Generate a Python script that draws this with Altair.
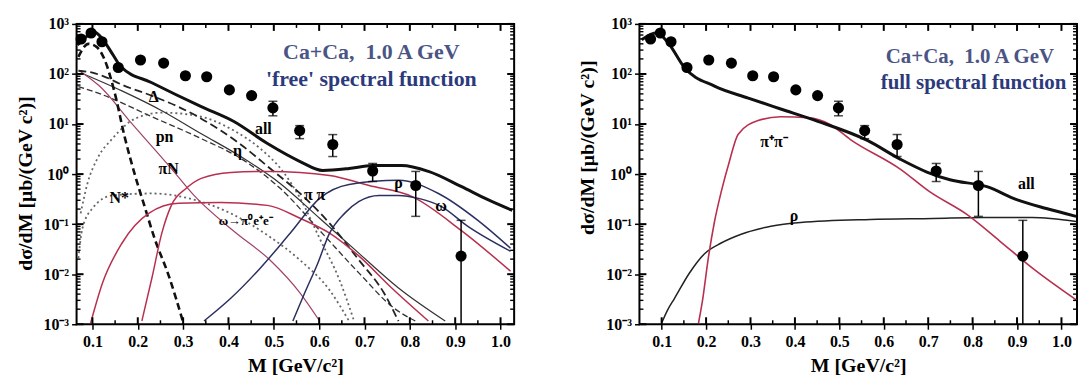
import altair as alt
import pandas as pd

FONT = "Liberation Serif"
W, H = 440, 302

# ---------------- measured data (same in both panels) ----------------
m_pts = [0.075, 0.097, 0.121, 0.157, 0.206, 0.257, 0.305, 0.352, 0.402, 0.451, 0.498, 0.557, 0.630, 0.718, 0.813, 0.913]
y_pts = [500, 660, 440, 135, 190, 165, 92, 88, 48, 37, 21, 7.4, 3.9, 1.15, 0.59, 0.023]
m_err = [0.498, 0.557, 0.630, 0.718, 0.813, 0.913]
err_lo = [14.6, 5.1, 2.24, 0.71, 0.143, 0.001]
err_hi = [28.5, 9.3, 6.15, 1.63, 1.13, 0.119]
m_cap_lo = [0.498, 0.557, 0.630, 0.718, 0.813]
cap_lo = [14.6, 5.1, 2.24, 0.71, 0.143]

# ---------------- left panel: 'free' spectral function ----------------
all_free_m = [0.067, 0.089, 0.104, 0.122, 0.144, 0.163, 0.231, 0.340, 0.412, 0.486, 0.558, 0.608, 0.666, 0.717, 0.782, 0.841, 0.913, 0.971, 1.026]
all_free_y = [382, 577, 693, 502, 252, 139, 66.8, 22.2, 11.2, 4.07, 1.78, 1.18, 1.29, 1.48, 1.48, 1.13, 0.566, 0.312, 0.188]

pi0_m = [0.069, 0.091, 0.109, 0.126, 0.148, 0.172, 0.194, 0.215, 0.237, 0.268, 0.300]
pi0_y = [220, 400, 348, 201, 46, 5.1, 0.94, 0.226, 0.052, 0.0095, 0.0011]

delta_m = [0.069, 0.100, 0.122, 0.165, 0.237, 0.290, 0.340, 0.383, 0.427, 0.492, 0.558, 0.623, 0.688, 0.743, 0.775]
delta_y = [116, 106, 92, 61, 35, 22, 12.8, 7.4, 3.9, 1.29, 0.41, 0.104, 0.019, 0.0042, 0.00115]

eta_m = [0.069, 0.122, 0.231, 0.340, 0.427, 0.514, 0.601, 0.688, 0.765, 0.812]
eta_y = [56, 38.5, 14, 5.1, 2.05, 0.52, 0.075, 0.0105, 0.0021, 0.00116]

pn_m = [0.074, 0.089, 0.111, 0.144, 0.194, 0.253, 0.329, 0.412, 0.470, 0.520, 0.558, 0.601, 0.645, 0.677]
pn_y = [0.164, 0.65, 2.05, 5.1, 12.8, 16.9, 14.7, 7.4, 3.24, 1.13, 0.33, 0.052, 0.0076, 0.00116]

nstar_m = [0.069, 0.078, 0.100, 0.144, 0.231, 0.311, 0.405, 0.486, 0.558, 0.623, 0.666]
nstar_y = [0.021, 0.083, 0.207, 0.375, 0.41, 0.33, 0.164, 0.060, 0.019, 0.0048, 0.00115]

brems_m = [0.074, 0.165, 0.253, 0.340, 0.427, 0.514, 0.601, 0.688, 0.775, 0.878]
brems_y = [106, 46, 18.5, 6.4, 2.24, 0.65, 0.131, 0.026, 0.0053, 0.00116]

piN_m = [0.075, 0.115, 0.187, 0.274, 0.324, 0.412, 0.492, 0.558, 0.601]
piN_y = [110, 58, 10.2, 1.29, 0.375, 0.072, 0.019, 0.0042, 0.00116]

redA_m = [0.096, 0.122, 0.165, 0.224, 0.290, 0.383, 0.486, 0.558, 0.623, 0.688, 0.760, 0.841]
redA_y = [0.00106, 0.0066, 0.0415, 0.164, 0.26, 0.27, 0.237, 0.131, 0.066, 0.0229, 0.0053, 0.00116]

redB_m = [0.209, 0.231, 0.253, 0.274, 0.307, 0.340, 0.405, 0.492, 0.623, 0.710, 0.804, 0.913, 1.022]
redB_y = [0.00116, 0.0083, 0.066, 0.237, 0.52, 0.82, 1.08, 1.13, 0.94, 0.59, 0.358, 0.075, 0.0115]

rho_m = [0.346, 0.405, 0.470, 0.536, 0.601, 0.666, 0.775, 0.863, 0.950, 1.022]
rho_y = [0.00116, 0.0033, 0.0132, 0.0656, 0.327, 0.62, 0.75, 0.41, 0.119, 0.033]

omega_m = [0.542, 0.568, 0.597, 0.623, 0.656, 0.688, 0.732, 0.775, 0.819, 0.869, 0.928, 1.022]
omega_y = [0.00116, 0.0042, 0.0166, 0.066, 0.164, 0.284, 0.375, 0.375, 0.327, 0.226, 0.090, 0.0287]

left_labels = ["Δ", "pn", "η", "all", "πN", "N*", "π π", "ρ", "ω"]
left_label_m = [0.235, 0.259, 0.420, 0.477, 0.268, 0.159, 0.590, 0.775, 0.869]
left_label_y = [35, 5.6, 2.95, 8.1, 1.29, 0.327, 0.375, 0.65, 0.226]
small_labels = ["ω→π⁰e⁺e⁻"]
small_label_m = [0.438]
small_label_y = [0.114]

# ---------------- right panel: full spectral function ----------------
all_full_m = [0.055, 0.089, 0.116, 0.151, 0.219, 0.295, 0.368, 0.447, 0.563, 0.637, 0.697, 0.749, 0.832, 0.899, 0.966, 1.033]
all_full_y = [483, 664, 403, 136, 57, 33, 20, 11.7, 4.7, 1.99, 1.10, 0.77, 0.56, 0.31, 0.205, 0.143]

pipi_m = [0.183, 0.192, 0.205, 0.219, 0.234, 0.252, 0.272, 0.317, 0.368, 0.429, 0.480, 0.525, 0.637, 0.704, 0.787, 0.861, 0.934, 1.035]
pipi_y = [0.00106, 0.003, 0.021, 0.113, 0.44, 1.73, 6.2, 11.7, 14.0, 13.4, 9.7, 4.9, 1.26, 0.44, 0.156, 0.046, 0.0134, 0.0030]

rho_full_m = [0.100, 0.113, 0.129, 0.163, 0.196, 0.234, 0.279, 0.346, 0.413, 0.570, 0.711, 0.823, 0.934, 1.033]
rho_full_y = [0.00106, 0.0019, 0.0033, 0.0107, 0.0254, 0.042, 0.063, 0.091, 0.108, 0.124, 0.130, 0.136, 0.136, 0.113]

right_labels = ["π⁺π⁻", "ρ", "all"]
right_label_m = [0.353, 0.398, 0.921]
right_label_y = [4.3, 0.143, 0.64]

# ---------------- axes ----------------
x_ticks = [0.1, 0.2, 0.3, 0.4, 0.5, 0.6, 0.7, 0.8, 0.9, 1.0]
x_minor = [0.05, 0.15, 0.25, 0.35, 0.45, 0.55, 0.65, 0.75, 0.85, 0.95, 1.05]
y_ticks = [0.001, 0.01, 0.1, 1, 10, 100, 1000]
y_tick_labels = ["10⁻³", "10⁻²", "10⁻¹", "10⁰", "10¹", "10²", "10³"]
y_minor = [k * 10.0 ** e for e in range(-3, 3) for k in range(2, 10)]

label_expr = ""
for v, lab in zip(y_ticks, y_tick_labels):
    label_expr += f"datum.value < {v * 1.5} ? '{lab}' : "
label_expr += "''"

YDOM = [0.001, 1000]
TEXT_BLUE1 = "#4b5585"
TEXT_BLUE2 = "#2c3a7c"
RED = "#b8304f"
NAVY = "#2b3060"


def axis_layer(df, xscale, yscale, ytitle_y):
    base = dict(grid=False, domain=False, ticks=True, tickSize=5, tickWidth=1.5,
                tickColor="black", zindex=2)
    lab = dict(labelFont=FONT, labelFontSize=16, labelFontWeight="bold", labelColor="black")
    tit = dict(titleFont=FONT, titleFontSize=20, titleFontWeight="bold", titleColor="black")
    ax = alt.Axis(orient="bottom", values=x_ticks, format=".1f", labelPadding=4,
                  labelFlush=False, labelOverlap=False,
                  title="M [GeV/c²]", titlePadding=7, **base, **lab, **tit)
    ay = alt.Axis(orient="left", values=y_ticks, labelExpr=label_expr, labelPadding=3,
                  labelOverlap=False, title="dσ/dM  [μb/(GeV c²)]", titlePadding=8,
                  titleY=ytitle_y, **base, **lab, **tit)
    return alt.Chart(df).mark_point(opacity=0).encode(
        x=alt.X("m:Q", scale=xscale, axis=ax),
        y=alt.Y("y:Q", scale=yscale, axis=ay),
    )


def frame_ticks(xscale, yscale, xdom):
    """Inward ticks on all four sides of the frame, placed from the tick lists."""
    out = []
    for vals, size, th in ((x_ticks, 7, 2.0), (x_minor, 4, 1.5)):
        vals = [v for v in vals if xdom[0] < v < xdom[1]]
        d = pd.DataFrame({"m": vals})
        for y0, y1 in ((H, H - size), (0, size)):
            out.append(alt.Chart(d).mark_rule(color="#000000", strokeWidth=th, opacity=1).encode(
                x=alt.X("m:Q", scale=xscale),
                y=alt.value(y0), y2=alt.value(y1)))
    for vals, size, th in ((y_ticks, 7, 2.0), (y_minor, 4, 1.4)):
        d = pd.DataFrame({"y": vals})
        for x0, x1 in ((0, size), (W, W - size)):
            out.append(alt.Chart(d).mark_rule(color="#000000", strokeWidth=th, opacity=1).encode(
                y=alt.Y("y:Q", scale=yscale),
                x=alt.value(x0), x2=alt.value(x1)))
    return out


def line(ms, ys, xscale, yscale, color, width, dash=None):
    df = pd.DataFrame({"m": ms, "y": ys})
    kw = dict(color=color, strokeWidth=width, interpolate="monotone", clip=True)
    if dash:
        kw["strokeDash"] = dash
    return alt.Chart(df).mark_line(**kw).encode(
        x=alt.X("m:Q", scale=xscale),
        y=alt.Y("y:Q", scale=yscale),
    )


def texts(labels, ms, ys, xscale, yscale, size, color="black"):
    df = pd.DataFrame({"m": ms, "y": ys, "t": labels})
    return alt.Chart(df).mark_text(font=FONT, fontWeight="bold", fontSize=size, color=color,
                                   align="center", baseline="middle").encode(
        x=alt.X("m:Q", scale=xscale),
        y=alt.Y("y:Q", scale=yscale),
        text="t:N",
    )


def data_layers(xscale, yscale):
    pts = pd.DataFrame({"m": m_pts, "y": y_pts})
    err = pd.DataFrame({"m": m_err, "y": err_lo, "hi": err_hi})
    caps = pd.DataFrame({"m": m_cap_lo, "y": cap_lo})
    hi_caps = pd.DataFrame({"m": m_err, "y": err_hi})
    bars = alt.Chart(err).mark_rule(color="black", strokeWidth=1.5, clip=True).encode(
        x=alt.X("m:Q", scale=xscale),
        y=alt.Y("y:Q", scale=yscale),
        y2="hi:Q",
    )
    top_caps = alt.Chart(hi_caps).mark_tick(color="black", orient="horizontal", size=9, thickness=1.5).encode(
        x=alt.X("m:Q", scale=xscale),
        y=alt.Y("y:Q", scale=yscale),
    )
    low_caps = alt.Chart(caps).mark_tick(color="black", orient="horizontal", size=9, thickness=1.5).encode(
        x=alt.X("m:Q", scale=xscale),
        y=alt.Y("y:Q", scale=yscale),
    )
    dots = alt.Chart(pts).mark_circle(color="black", size=125, opacity=1).encode(
        x=alt.X("m:Q", scale=xscale),
        y=alt.Y("y:Q", scale=yscale),
    )
    return [bars, top_caps, low_caps, dots]


pts_df = pd.DataFrame({"m": m_pts, "y": y_pts})
TITLE1 = "Ca+Ca,\u00a0 1.0 A GeV"

# ---------------- left panel ----------------
XDOM_L = [0.065, 1.03]
xs_l = alt.Scale(domain=XDOM_L, nice=False, zero=False)
ys_l = alt.Scale(type="log", domain=YDOM, nice=False)

left_layers = [axis_layer(pts_df, xs_l, ys_l, 160)] + [
    line(nstar_m, nstar_y, xs_l, ys_l, "#666666", 1.8, [2, 3]),
    line(pn_m, pn_y, xs_l, ys_l, "#666666", 1.8, [2, 3]),
    line(eta_m, eta_y, xs_l, ys_l, "#333333", 1.3, [6, 3]),
    line(brems_m, brems_y, xs_l, ys_l, "#333333", 1.2),
    line(piN_m, piN_y, xs_l, ys_l, "#a0426a", 1.2),
    line(delta_m, delta_y, xs_l, ys_l, "#222222", 1.8, [8, 4]),
    line(pi0_m, pi0_y, xs_l, ys_l, "#111111", 2.6, [7, 4]),
    line(redA_m, redA_y, xs_l, ys_l, RED, 1.5),
    line(redB_m, redB_y, xs_l, ys_l, RED, 1.5),
    line(rho_m, rho_y, xs_l, ys_l, NAVY, 1.5),
    line(omega_m, omega_y, xs_l, ys_l, NAVY, 1.5),
    line(all_free_m, all_free_y, xs_l, ys_l, "#111111", 3),
] + data_layers(xs_l, ys_l) + [
    texts(left_labels, left_label_m, left_label_y, xs_l, ys_l, 16),
    texts(small_labels, small_label_m, small_label_y, xs_l, ys_l, 13),
    texts([TITLE1], [0.715], [277], xs_l, ys_l, 22, TEXT_BLUE1),
    texts(["'free' spectral function"], [0.715], [80], xs_l, ys_l, 22, TEXT_BLUE2),
] + frame_ticks(xs_l, ys_l, XDOM_L)

left = alt.layer(*left_layers).properties(width=W, height=H)

# ---------------- right panel ----------------
XDOM_R = [0.05, 1.035]
xs_r = alt.Scale(domain=XDOM_R, nice=False, zero=False)
ys_r = alt.Scale(type="log", domain=YDOM, nice=False)

right_layers = [axis_layer(pts_df, xs_r, ys_r, 124)] + [
    line(rho_full_m, rho_full_y, xs_r, ys_r, "#222222", 1.5),
    line(pipi_m, pipi_y, xs_r, ys_r, RED, 1.6),
    line(all_full_m, all_full_y, xs_r, ys_r, "#111111", 3),
] + data_layers(xs_r, ys_r) + [
    texts(right_labels, right_label_m, right_label_y, xs_r, ys_r, 16),
    texts([TITLE1], [0.794], [223], xs_r, ys_r, 21, TEXT_BLUE1),
    texts(["full spectral function"], [0.802], [65.6], xs_r, ys_r, 21, TEXT_BLUE2),
] + frame_ticks(xs_r, ys_r, XDOM_R)

right = alt.layer(*right_layers).properties(width=W, height=H)

chart = alt.hconcat(left, right, spacing=61).properties(
    padding={"left": 14, "top": 14, "right": 0, "bottom": 0},
    background="white",
).configure_view(stroke="black", strokeWidth=2).configure_axis(grid=False)

chart.save("out.html", embed_options={"renderer": "svg", "actions": False})
